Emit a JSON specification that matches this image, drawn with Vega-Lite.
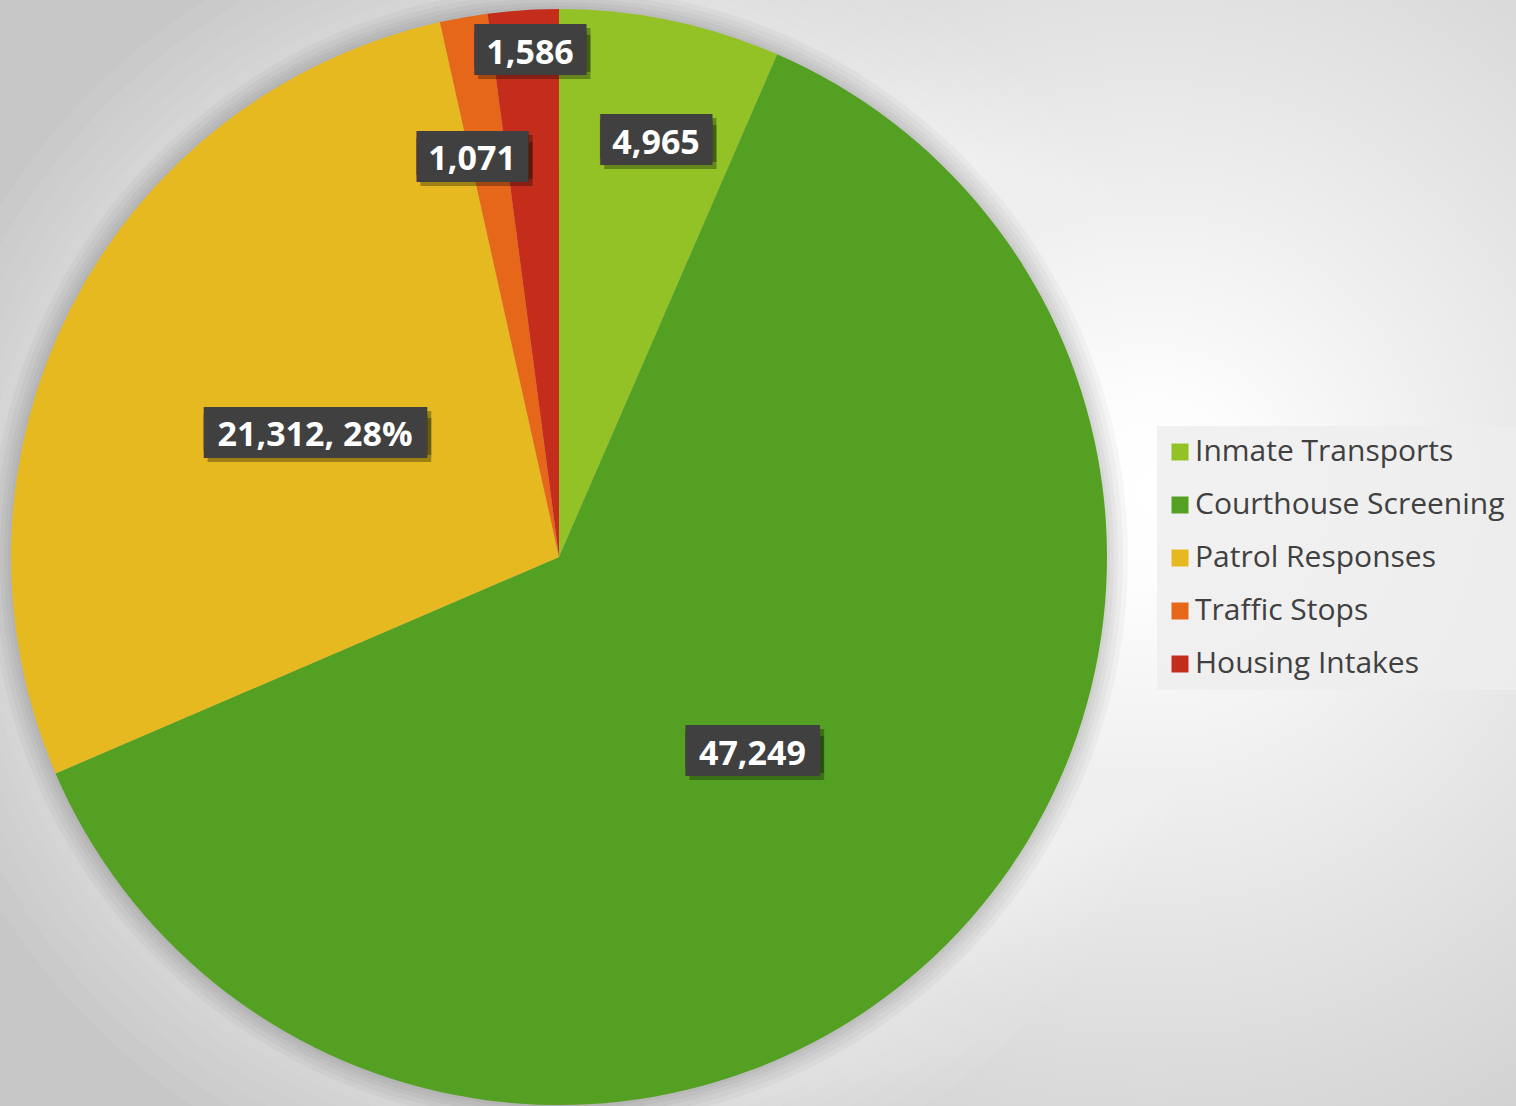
{
  "$schema": "https://vega.github.io/schema/vega-lite/v6.json",
  "width": 1516,
  "height": 1106,
  "autosize": {"type": "none"},
  "padding": 0,
  "background": "#d0d0d0",
  "view": {
    "stroke": null,
    "fill": {
      "gradient": "radial",
      "x1": 0.76, "y1": 0.46, "r1": 0,
      "x2": 0.76, "y2": 0.46, "r2": 0.58,
      "stops": [
        {"offset": 0, "color": "#ffffff"},
        {"offset": 0.1, "color": "#fdfdfd"},
        {"offset": 1, "color": "#c7c7c7"}
      ]
    }
  },
  "data": {
    "values": [
      {"category": "Inmate Transports", "value": 4965, "rank": 1},
      {"category": "Courthouse Screening", "value": 47249, "rank": 2},
      {"category": "Patrol Responses", "value": 21312, "rank": 3},
      {"category": "Traffic Stops", "value": 1071, "rank": 4},
      {"category": "Housing Intakes", "value": 1586, "rank": 5}
    ]
  },
  "transform": [
    {"joinaggregate": [{"op": "sum", "field": "value", "as": "total"}]},
    {"stack": "value", "groupby": [], "sort": [{"field": "rank", "order": "ascending"}], "as": ["v0", "v1"]},
    {"calculate": "(datum.v0 + datum.v1) / 2", "as": "mid"},
    {"calculate": "datum.category == 'Patrol Responses' ? format(datum.value, ',') + ', ' + format(datum.value / datum.total, '.0%') : format(datum.value, ',')", "as": "label"},
    {"calculate": "pad('', round(0.9 * length(datum.label) + 0.5), '█')", "as": "box"}
  ],
  "encoding": {
    "x": {"datum": 0.36873, "type": "quantitative", "scale": {"domain": [0, 1], "nice": false, "zero": false}, "axis": null},
    "y": {"datum": 0.49638, "type": "quantitative", "scale": {"domain": [0, 1], "nice": false, "zero": false}, "axis": null}
  },
  "layer": [
    {
      "encoding": {
        "theta": {"field": "v0", "type": "quantitative", "scale": {"domain": [0, 76183], "nice": false, "zero": true}},
        "theta2": {"field": "v1"}
      },
      "layer": [
        {"mark": {"type": "arc", "outerRadius": 660, "color": "#ffffff", "opacity": 0.06}},
        {"mark": {"type": "arc", "outerRadius": 640, "color": "#ffffff", "opacity": 0.06}},
        {"mark": {"type": "arc", "outerRadius": 622, "color": "#ffffff", "opacity": 0.06}},
        {"mark": {"type": "arc", "outerRadius": 606, "color": "#ffffff", "opacity": 0.06}},
        {"mark": {"type": "arc", "outerRadius": 592, "color": "#ffffff", "opacity": 0.06}},
        {"mark": {"type": "arc", "outerRadius": 580, "color": "#ffffff", "opacity": 0.06}},
        {"mark": {"type": "arc", "outerRadius": 569, "color": "#000000", "opacity": 0.03}},
        {"mark": {"type": "arc", "outerRadius": 564, "color": "#000000", "opacity": 0.03}},
        {"mark": {"type": "arc", "outerRadius": 559, "color": "#000000", "opacity": 0.03}},
        {"mark": {"type": "arc", "outerRadius": 555, "color": "#000000", "opacity": 0.03}},
        {"mark": {"type": "arc", "outerRadius": 551, "color": "#000000", "opacity": 0.03}},
        {
          "mark": {"type": "arc", "outerRadius": 548},
          "encoding": {
            "color": {
              "field": "category",
              "type": "nominal",
              "scale": {
                "domain": ["Inmate Transports", "Courthouse Screening", "Patrol Responses", "Traffic Stops", "Housing Intakes"],
                "range": ["#92c226", "#54a022", "#e5b91f", "#e7671a", "#c42d1b"]
              },
              "legend": {
                "orient": "none",
                "legendX": 1157,
                "legendY": 426,
                "title": null,
                "fillColor": "rgba(238,238,238,0.8)",
                "padding": 11,
                "symbolType": "square",
                "symbolSize": 289,
                "symbolStrokeWidth": 0,
                "symbolOffset": -3,
                "labelFont": "Open Sans",
                "labelFontSize": 30,
                "labelColor": "#404040",
                "labelOffset": 0,
                "labelLimit": 0,
                "rowPadding": 23
              }
            }
          }
        }
      ]
    },
    {
      "transform": [{"filter": "datum.category == 'Courthouse Screening' || datum.category == 'Patrol Responses'"}],
      "encoding": {"theta": {"field": "mid", "type": "quantitative"}, "radius": {"value": 274}, "text": {"field": "box"}},
      "layer": [
        {"mark": {"type": "text", "font": "DejaVu Sans Mono", "fontSize": 37, "color": "#000000", "opacity": 0.3, "baseline": "middle", "dx": 4, "dy": 2.3}},
        {"mark": {"type": "text", "font": "DejaVu Sans Mono", "fontSize": 37, "color": "#000000", "opacity": 0.3, "baseline": "middle", "dx": 4, "dy": 9.3}},
        {"mark": {"type": "text", "font": "DejaVu Sans Mono", "fontSize": 37, "color": "#404040", "baseline": "middle", "dy": -1.7}},
        {"mark": {"type": "text", "font": "DejaVu Sans Mono", "fontSize": 37, "color": "#404040", "baseline": "middle", "dy": 5.3}},
        {"mark": {"type": "text", "font": "Open Sans", "fontWeight": "bold", "fontSize": 34, "color": "#ffffff", "baseline": "middle", "dy": 4}, "encoding": {"text": {"field": "label"}}}
      ]
    },
    {
      "transform": [{"filter": "datum.category == 'Inmate Transports'"}],
      "encoding": {"theta": {"field": "mid", "type": "quantitative"}, "radius": {"value": 428}, "text": {"field": "box"}},
      "layer": [
        {"mark": {"type": "text", "thetaOffset": 0.024, "font": "DejaVu Sans Mono", "fontSize": 37, "color": "#000000", "opacity": 0.3, "baseline": "middle", "dx": 4, "dy": 2.3}},
        {"mark": {"type": "text", "thetaOffset": 0.024, "font": "DejaVu Sans Mono", "fontSize": 37, "color": "#000000", "opacity": 0.3, "baseline": "middle", "dx": 4, "dy": 9.3}},
        {"mark": {"type": "text", "thetaOffset": 0.024, "font": "DejaVu Sans Mono", "fontSize": 37, "color": "#404040", "baseline": "middle", "dy": -1.7}},
        {"mark": {"type": "text", "thetaOffset": 0.024, "font": "DejaVu Sans Mono", "fontSize": 37, "color": "#404040", "baseline": "middle", "dy": 5.3}},
        {"mark": {"type": "text", "thetaOffset": 0.024, "font": "Open Sans", "fontWeight": "bold", "fontSize": 34, "color": "#ffffff", "baseline": "middle", "dy": 4}, "encoding": {"text": {"field": "label"}}}
      ]
    },
    {
      "transform": [{"filter": "datum.category == 'Traffic Stops'"}],
      "encoding": {"theta": {"field": "mid", "type": "quantitative"}, "radius": {"value": 410}, "text": {"field": "box"}},
      "layer": [
        {"mark": {"type": "text", "thetaOffset": -0.0386, "font": "DejaVu Sans Mono", "fontSize": 37, "color": "#000000", "opacity": 0.3, "baseline": "middle", "dx": 4, "dy": 2.3}},
        {"mark": {"type": "text", "thetaOffset": -0.0386, "font": "DejaVu Sans Mono", "fontSize": 37, "color": "#000000", "opacity": 0.3, "baseline": "middle", "dx": 4, "dy": 9.3}},
        {"mark": {"type": "text", "thetaOffset": -0.0386, "font": "DejaVu Sans Mono", "fontSize": 37, "color": "#404040", "baseline": "middle", "dy": -1.7}},
        {"mark": {"type": "text", "thetaOffset": -0.0386, "font": "DejaVu Sans Mono", "fontSize": 37, "color": "#404040", "baseline": "middle", "dy": 5.3}},
        {"mark": {"type": "text", "thetaOffset": -0.0386, "font": "Open Sans", "fontWeight": "bold", "fontSize": 34, "color": "#ffffff", "baseline": "middle", "dy": 4}, "encoding": {"text": {"field": "label"}}}
      ]
    },
    {
      "transform": [{"filter": "datum.category == 'Housing Intakes'"}],
      "encoding": {"theta": {"field": "mid", "type": "quantitative"}, "radius": {"value": 508}, "text": {"field": "box"}},
      "layer": [
        {"mark": {"type": "text", "thetaOffset": 0.0084, "font": "DejaVu Sans Mono", "fontSize": 37, "color": "#000000", "opacity": 0.3, "baseline": "middle", "dx": 4, "dy": 2.3}},
        {"mark": {"type": "text", "thetaOffset": 0.0084, "font": "DejaVu Sans Mono", "fontSize": 37, "color": "#000000", "opacity": 0.3, "baseline": "middle", "dx": 4, "dy": 9.3}},
        {"mark": {"type": "text", "thetaOffset": 0.0084, "font": "DejaVu Sans Mono", "fontSize": 37, "color": "#404040", "baseline": "middle", "dy": -1.7}},
        {"mark": {"type": "text", "thetaOffset": 0.0084, "font": "DejaVu Sans Mono", "fontSize": 37, "color": "#404040", "baseline": "middle", "dy": 5.3}},
        {"mark": {"type": "text", "thetaOffset": 0.0084, "font": "Open Sans", "fontWeight": "bold", "fontSize": 34, "color": "#ffffff", "baseline": "middle", "dy": 4}, "encoding": {"text": {"field": "label"}}}
      ]
    }
  ]
}
